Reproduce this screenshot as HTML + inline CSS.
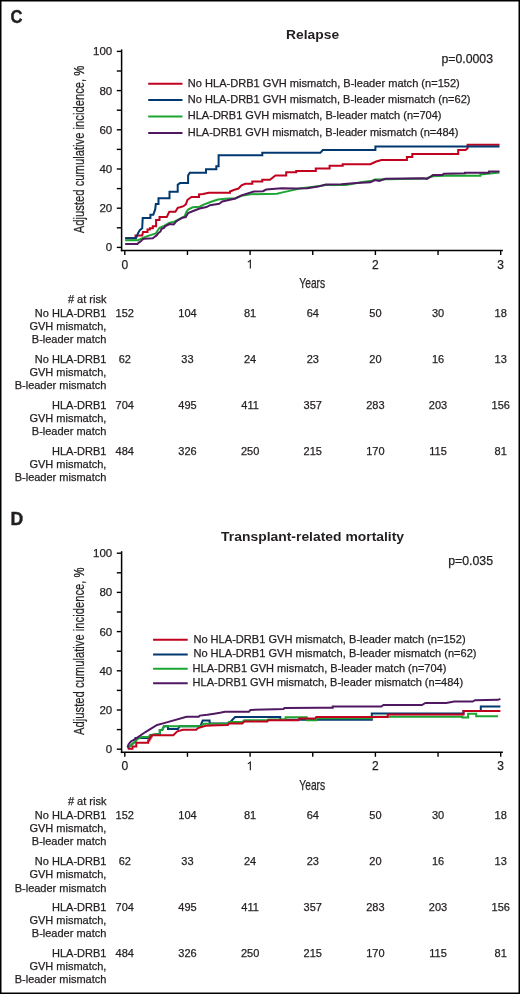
<!DOCTYPE html>
<html><head><meta charset="utf-8"><style>
html,body{margin:0;padding:0;background:#fff;}
#wrap{position:relative;width:520px;height:994px;overflow:hidden;background:#fff;}
svg{position:absolute;left:0;top:0;will-change:transform;}
svg text{font-family:"Liberation Sans", sans-serif;fill:#231f20;stroke:#231f20;stroke-width:0.25px;}
</style></head><body>
<div id="wrap">
<svg width="520" height="994" viewBox="0 0 520 994">
<rect x="0.75" y="0.75" width="518.5" height="992.5" fill="none" stroke="#000" stroke-width="1.5"/>
<text x="10.4" y="22.9" font-size="17.6" font-weight="bold" style="stroke-width:0.4px" textLength="12.0" lengthAdjust="spacingAndGlyphs">C</text>
<text x="312.6" y="39" font-size="13" text-anchor="middle" font-weight="bold" style="stroke:none" textLength="53" lengthAdjust="spacingAndGlyphs">Relapse</text>
<text x="493.0" y="62.5" font-size="12" text-anchor="end" textLength="51.6" lengthAdjust="spacingAndGlyphs">p=0.0003</text>
<line x1="121.6" y1="49.400000000000006" x2="121.6" y2="251.3" stroke="#000" stroke-width="1.5"/>
<line x1="120.85" y1="250.55" x2="502.9" y2="250.55" stroke="#000" stroke-width="1.5"/>
<line x1="116.8" y1="247.4" x2="121.6" y2="247.4" stroke="#000" stroke-width="1.4"/>
<line x1="116.8" y1="227.8" x2="121.6" y2="227.8" stroke="#000" stroke-width="1.4"/>
<line x1="116.8" y1="208.2" x2="121.6" y2="208.2" stroke="#000" stroke-width="1.4"/>
<line x1="116.8" y1="188.60000000000002" x2="121.6" y2="188.60000000000002" stroke="#000" stroke-width="1.4"/>
<line x1="116.8" y1="169.0" x2="121.6" y2="169.0" stroke="#000" stroke-width="1.4"/>
<line x1="116.8" y1="149.4" x2="121.6" y2="149.4" stroke="#000" stroke-width="1.4"/>
<line x1="116.8" y1="129.8" x2="121.6" y2="129.8" stroke="#000" stroke-width="1.4"/>
<line x1="116.8" y1="110.20000000000002" x2="121.6" y2="110.20000000000002" stroke="#000" stroke-width="1.4"/>
<line x1="116.8" y1="90.6" x2="121.6" y2="90.6" stroke="#000" stroke-width="1.4"/>
<line x1="116.8" y1="71.0" x2="121.6" y2="71.0" stroke="#000" stroke-width="1.4"/>
<line x1="116.8" y1="51.400000000000006" x2="121.6" y2="51.400000000000006" stroke="#000" stroke-width="1.4"/>
<text x="112.2" y="251.4" font-size="11.5" text-anchor="end">0</text>
<text x="112.2" y="212.2" font-size="11.5" text-anchor="end">20</text>
<text x="112.2" y="173.0" font-size="11.5" text-anchor="end">40</text>
<text x="112.2" y="133.8" font-size="11.5" text-anchor="end">60</text>
<text x="112.2" y="94.6" font-size="11.5" text-anchor="end">80</text>
<text x="112.2" y="55.400000000000006" font-size="11.5" text-anchor="end">100</text>
<line x1="124.8" y1="250.55" x2="124.8" y2="255.0" stroke="#000" stroke-width="1.4"/>
<line x1="187.45" y1="250.55" x2="187.45" y2="255.0" stroke="#000" stroke-width="1.4"/>
<line x1="250.1" y1="250.55" x2="250.1" y2="255.0" stroke="#000" stroke-width="1.4"/>
<line x1="312.75" y1="250.55" x2="312.75" y2="255.0" stroke="#000" stroke-width="1.4"/>
<line x1="375.4" y1="250.55" x2="375.4" y2="255.0" stroke="#000" stroke-width="1.4"/>
<line x1="438.05" y1="250.55" x2="438.05" y2="255.0" stroke="#000" stroke-width="1.4"/>
<line x1="500.7" y1="250.55" x2="500.7" y2="255.0" stroke="#000" stroke-width="1.4"/>
<text x="124.8" y="268.5" font-size="12" text-anchor="middle">0</text>
<path d="M250.35,268.50 V260.30 L247.85,262.10" fill="none" stroke="#231f20" stroke-width="1.15" stroke-linejoin="miter"/>
<text x="375.4" y="268.5" font-size="12" text-anchor="middle">2</text>
<text x="500.7" y="268.5" font-size="12" text-anchor="middle">3</text>
<text x="312.2" y="287.80" font-size="15" text-anchor="middle" textLength="25.8" lengthAdjust="spacingAndGlyphs">Years</text>
<text transform="translate(83.8,149.4) rotate(-90)" x="0" y="0" font-size="14" text-anchor="middle" textLength="167.5" lengthAdjust="spacingAndGlyphs">Adjusted cumulative incidence, %</text>
<line x1="148.2" y1="83.7" x2="182.5" y2="83.7" stroke="#c0021e" stroke-width="2.0"/>
<text x="187.8" y="86.5" font-size="11" textLength="272.0" lengthAdjust="spacingAndGlyphs">No HLA-DRB1 GVH mismatch, B-leader match (n=152)</text>
<line x1="148.2" y1="100.1" x2="182.5" y2="100.1" stroke="#01386f" stroke-width="2.0"/>
<text x="187.8" y="102.89999999999999" font-size="11" textLength="282.7" lengthAdjust="spacingAndGlyphs">No HLA-DRB1 GVH mismatch, B-leader mismatch (n=62)</text>
<line x1="148.2" y1="116.5" x2="182.5" y2="116.5" stroke="#1ca532" stroke-width="2.0"/>
<text x="187.8" y="119.3" font-size="11" textLength="253.7" lengthAdjust="spacingAndGlyphs">HLA-DRB1 GVH mismatch, B-leader match (n=704)</text>
<line x1="148.2" y1="133.0" x2="182.5" y2="133.0" stroke="#511862" stroke-width="2.0"/>
<text x="187.8" y="135.8" font-size="11" textLength="270.5" lengthAdjust="spacingAndGlyphs">HLA-DRB1 GVH mismatch, B-leader mismatch (n=484)</text>
<polyline points="125.2,238.3 135.5,238.3 135.5,235.4 142.2,235.4 143.0,232.0 147.5,232.0 147.5,229.6 149.9,229.6 149.9,228.2 152.8,228.2 152.8,226.3 156.1,226.3 156.1,220.0 159.5,220.0 159.5,217.1 166.7,217.1 169.3,211.7 175.4,211.7 177.7,207.9 180.0,207.3 183.5,206.2 185.8,204.4 187.5,199.8 191.5,196.9 199.0,196.9 199.0,194.5 203.0,194.0 208.8,192.8 230.0,192.8 230.0,191.5 233.8,190.0 238.5,188.5 241.5,185.4 245.4,183.8 252.3,183.8 252.3,181.5 262.3,181.5 262.3,179.7 270.0,179.7 275.4,175.4 286.2,175.4 286.2,172.3 296.2,172.3 296.2,171.0 315.8,171.0 315.8,168.5 329.6,168.5 329.6,165.7 342.7,165.7 342.7,164.2 370.4,164.2 373.0,163.0 376.2,161.5 381.5,160.0 406.9,160.0 406.9,156.9 412.3,156.9 412.3,154.0 458.2,154.0 458.2,149.9 465.6,149.9 467.6,148.2 467.6,144.8 499.5,144.8" fill="none" stroke="#c0021e" stroke-width="2.0" stroke-linejoin="miter" stroke-linecap="butt"/>
<polyline points="125.2,238.3 136.0,238.3 137.9,233.5 139.8,230.1 142.2,228.2 142.7,218.1 150.4,218.1 150.4,214.7 153.3,214.7 155.2,209.4 155.8,204.1 158.5,204.1 158.5,198.3 169.5,198.3 169.5,191.7 177.7,191.7 177.7,184.8 180.0,183.1 188.1,183.1 188.1,175.6 189.8,172.7 206.0,172.7 206.0,169.2 216.3,169.2 216.3,166.3 218.6,166.3 218.6,155.2 262.3,155.2 262.3,152.8 320.4,152.8 322.7,150.0 375.4,150.0 375.4,146.4 499.5,146.4" fill="none" stroke="#01386f" stroke-width="2.0" stroke-linejoin="miter" stroke-linecap="butt"/>
<polyline points="125.2,240.2 137.9,240.2 140.3,239.2 144.1,237.3 148.0,235.9 152.8,234.4 155.7,233.5 159.5,227.7 163.3,226.3 169.1,222.9 174.2,221.7 184.6,216.5 186.3,211.9 188.1,209.6 192.7,207.3 199.6,206.7 204.2,204.4 211.2,201.8 218.0,199.5 225.0,198.8 235.4,198.2 241.5,195.7 250.8,194.2 277.0,193.8 281.5,192.6 298.5,188.9 299.6,188.5 318.0,186.2 325.8,185.1 345.8,185.1 362.7,182.0 371.9,180.8 375.0,179.6 425.4,178.5 433.0,176.2 450.0,175.6 480.4,175.8 480.4,174.4 499.5,172.4" fill="none" stroke="#1ca532" stroke-width="2.0" stroke-linejoin="miter" stroke-linecap="butt"/>
<polyline points="125.2,244.0 137.4,244.0 138.8,242.6 140.8,241.2 142.2,239.7 144.1,238.8 152.8,238.3 154.7,236.8 156.6,235.4 158.5,233.0 160.5,231.5 161.4,229.1 164.3,227.7 165.0,226.3 169.6,224.0 173.7,224.4 176.5,221.2 182.3,217.7 185.8,217.1 188.1,213.1 193.8,210.8 199.6,208.5 206.5,207.1 210.0,205.2 219.2,203.8 222.3,201.5 235.4,198.5 241.5,195.4 253.8,191.5 263.0,191.2 266.2,189.5 281.5,188.3 295.0,188.5 307.3,188.2 318.0,186.6 325.8,184.6 341.2,184.2 356.5,183.1 370.4,182.3 375.0,180.0 379.2,181.0 385.4,178.8 423.8,178.2 426.9,179.0 433.0,175.1 442.3,175.1 443.8,173.7 464.9,173.3 464.9,172.8 489.1,172.8 489.1,171.5 499.5,171.5" fill="none" stroke="#511862" stroke-width="2.0" stroke-linejoin="miter" stroke-linecap="butt"/>
<text x="106.4" y="303.1" font-size="11" text-anchor="end"># at risk</text>
<text x="106.4" y="316.5" font-size="11" text-anchor="end">No HLA-DRB1</text>
<text x="106.4" y="329.7" font-size="11" text-anchor="end">GVH mismatch,</text>
<text x="106.4" y="342.9" font-size="11" text-anchor="end">B-leader match</text>
<text x="124.8" y="316.5" font-size="11" text-anchor="middle">152</text>
<text x="187.45" y="316.5" font-size="11" text-anchor="middle">104</text>
<text x="250.1" y="316.5" font-size="11" text-anchor="middle">81</text>
<text x="312.75" y="316.5" font-size="11" text-anchor="middle">64</text>
<text x="375.4" y="316.5" font-size="11" text-anchor="middle">50</text>
<text x="438.05" y="316.5" font-size="11" text-anchor="middle">30</text>
<text x="500.7" y="316.5" font-size="11" text-anchor="middle">18</text>
<text x="106.4" y="362.9" font-size="11" text-anchor="end">No HLA-DRB1</text>
<text x="106.4" y="376.09999999999997" font-size="11" text-anchor="end">GVH mismatch,</text>
<text x="106.4" y="389.29999999999995" font-size="11" text-anchor="end">B-leader mismatch</text>
<text x="124.8" y="362.9" font-size="11" text-anchor="middle">62</text>
<text x="187.45" y="362.9" font-size="11" text-anchor="middle">33</text>
<text x="250.1" y="362.9" font-size="11" text-anchor="middle">24</text>
<text x="312.75" y="362.9" font-size="11" text-anchor="middle">23</text>
<text x="375.4" y="362.9" font-size="11" text-anchor="middle">20</text>
<text x="438.05" y="362.9" font-size="11" text-anchor="middle">16</text>
<text x="500.7" y="362.9" font-size="11" text-anchor="middle">13</text>
<text x="106.4" y="408.6" font-size="11" text-anchor="end">HLA-DRB1</text>
<text x="106.4" y="421.8" font-size="11" text-anchor="end">GVH mismatch,</text>
<text x="106.4" y="435.0" font-size="11" text-anchor="end">B-leader match</text>
<text x="124.8" y="408.6" font-size="11" text-anchor="middle">704</text>
<text x="187.45" y="408.6" font-size="11" text-anchor="middle">495</text>
<text x="250.1" y="408.6" font-size="11" text-anchor="middle">411</text>
<text x="312.75" y="408.6" font-size="11" text-anchor="middle">357</text>
<text x="375.4" y="408.6" font-size="11" text-anchor="middle">283</text>
<text x="438.05" y="408.6" font-size="11" text-anchor="middle">203</text>
<text x="500.7" y="408.6" font-size="11" text-anchor="middle">156</text>
<text x="106.4" y="454.5" font-size="11" text-anchor="end">HLA-DRB1</text>
<text x="106.4" y="467.7" font-size="11" text-anchor="end">GVH mismatch,</text>
<text x="106.4" y="480.9" font-size="11" text-anchor="end">B-leader mismatch</text>
<text x="124.8" y="454.5" font-size="11" text-anchor="middle">484</text>
<text x="187.45" y="454.5" font-size="11" text-anchor="middle">326</text>
<text x="250.1" y="454.5" font-size="11" text-anchor="middle">250</text>
<text x="312.75" y="454.5" font-size="11" text-anchor="middle">215</text>
<text x="375.4" y="454.5" font-size="11" text-anchor="middle">170</text>
<text x="438.05" y="454.5" font-size="11" text-anchor="middle">115</text>
<text x="500.7" y="454.5" font-size="11" text-anchor="middle">81</text>
<text x="10.4" y="525.2" font-size="17.6" font-weight="bold" style="stroke-width:0.4px">D</text>
<text x="312.6" y="541.3" font-size="13" text-anchor="middle" font-weight="bold" style="stroke:none" textLength="183" lengthAdjust="spacingAndGlyphs">Transplant-related mortality</text>
<text x="493.0" y="564.8" font-size="12" text-anchor="end" textLength="44.8" lengthAdjust="spacingAndGlyphs">p=0.035</text>
<line x1="121.6" y1="551.2" x2="121.6" y2="753.1" stroke="#000" stroke-width="1.5"/>
<line x1="120.85" y1="752.35" x2="502.9" y2="752.35" stroke="#000" stroke-width="1.5"/>
<line x1="116.8" y1="749.2" x2="121.6" y2="749.2" stroke="#000" stroke-width="1.4"/>
<line x1="116.8" y1="729.6" x2="121.6" y2="729.6" stroke="#000" stroke-width="1.4"/>
<line x1="116.8" y1="710.0" x2="121.6" y2="710.0" stroke="#000" stroke-width="1.4"/>
<line x1="116.8" y1="690.4000000000001" x2="121.6" y2="690.4000000000001" stroke="#000" stroke-width="1.4"/>
<line x1="116.8" y1="670.8000000000001" x2="121.6" y2="670.8000000000001" stroke="#000" stroke-width="1.4"/>
<line x1="116.8" y1="651.2" x2="121.6" y2="651.2" stroke="#000" stroke-width="1.4"/>
<line x1="116.8" y1="631.6" x2="121.6" y2="631.6" stroke="#000" stroke-width="1.4"/>
<line x1="116.8" y1="612.0" x2="121.6" y2="612.0" stroke="#000" stroke-width="1.4"/>
<line x1="116.8" y1="592.4000000000001" x2="121.6" y2="592.4000000000001" stroke="#000" stroke-width="1.4"/>
<line x1="116.8" y1="572.8000000000001" x2="121.6" y2="572.8000000000001" stroke="#000" stroke-width="1.4"/>
<line x1="116.8" y1="553.2" x2="121.6" y2="553.2" stroke="#000" stroke-width="1.4"/>
<text x="112.2" y="753.2" font-size="11.5" text-anchor="end">0</text>
<text x="112.2" y="714.0" font-size="11.5" text-anchor="end">20</text>
<text x="112.2" y="674.8000000000001" font-size="11.5" text-anchor="end">40</text>
<text x="112.2" y="635.6" font-size="11.5" text-anchor="end">60</text>
<text x="112.2" y="596.4000000000001" font-size="11.5" text-anchor="end">80</text>
<text x="112.2" y="557.2" font-size="11.5" text-anchor="end">100</text>
<line x1="124.8" y1="752.35" x2="124.8" y2="756.8000000000001" stroke="#000" stroke-width="1.4"/>
<line x1="187.45" y1="752.35" x2="187.45" y2="756.8000000000001" stroke="#000" stroke-width="1.4"/>
<line x1="250.1" y1="752.35" x2="250.1" y2="756.8000000000001" stroke="#000" stroke-width="1.4"/>
<line x1="312.75" y1="752.35" x2="312.75" y2="756.8000000000001" stroke="#000" stroke-width="1.4"/>
<line x1="375.4" y1="752.35" x2="375.4" y2="756.8000000000001" stroke="#000" stroke-width="1.4"/>
<line x1="438.05" y1="752.35" x2="438.05" y2="756.8000000000001" stroke="#000" stroke-width="1.4"/>
<line x1="500.7" y1="752.35" x2="500.7" y2="756.8000000000001" stroke="#000" stroke-width="1.4"/>
<text x="124.8" y="770.3000000000001" font-size="12" text-anchor="middle">0</text>
<path d="M250.35,770.30 V762.10 L247.85,763.90" fill="none" stroke="#231f20" stroke-width="1.15" stroke-linejoin="miter"/>
<text x="375.4" y="770.3000000000001" font-size="12" text-anchor="middle">2</text>
<text x="500.7" y="770.3000000000001" font-size="12" text-anchor="middle">3</text>
<text x="312.2" y="790.10" font-size="15" text-anchor="middle" textLength="25.8" lengthAdjust="spacingAndGlyphs">Years</text>
<text transform="translate(83.8,651.2) rotate(-90)" x="0" y="0" font-size="14" text-anchor="middle" textLength="167.5" lengthAdjust="spacingAndGlyphs">Adjusted cumulative incidence, %</text>
<line x1="153.1" y1="639.8" x2="187.7" y2="639.8" stroke="#c0021e" stroke-width="2.0"/>
<text x="193.4" y="642.5999999999999" font-size="11" textLength="272.2" lengthAdjust="spacingAndGlyphs">No HLA-DRB1 GVH mismatch, B-leader match (n=152)</text>
<line x1="153.1" y1="654.4" x2="187.7" y2="654.4" stroke="#01386f" stroke-width="2.0"/>
<text x="193.4" y="657.1999999999999" font-size="11" textLength="283.1" lengthAdjust="spacingAndGlyphs">No HLA-DRB1 GVH mismatch, B-leader mismatch (n=62)</text>
<line x1="153.1" y1="668.8" x2="187.7" y2="668.8" stroke="#1ca532" stroke-width="2.0"/>
<text x="192.6" y="671.5999999999999" font-size="11" textLength="253.8" lengthAdjust="spacingAndGlyphs">HLA-DRB1 GVH mismatch, B-leader match (n=704)</text>
<line x1="153.1" y1="683.3" x2="187.7" y2="683.3" stroke="#511862" stroke-width="2.0"/>
<text x="192.6" y="686.0999999999999" font-size="11" textLength="270.5" lengthAdjust="spacingAndGlyphs">HLA-DRB1 GVH mismatch, B-leader mismatch (n=484)</text>
<polyline points="127.8,748.5 128.6,747.3 135.5,741.2 135.5,737.9 148.6,737.9 150.2,735.2 159.8,733.8 159.8,730.0 162.3,729.8 164.0,726.2 168.0,726.2 168.0,729.0 178.0,729.0 179.5,726.2 200.4,726.2 202.7,720.6 209.6,720.6 209.6,723.5 228.5,723.3 229.3,722.9 235.1,717.1 280.3,717.1 280.3,719.8 371.8,719.8 371.8,713.6 463.5,713.6 463.5,711.1 480.8,711.1 480.8,706.5 500.4,706.5" fill="none" stroke="#01386f" stroke-width="2.0" stroke-linejoin="miter" stroke-linecap="butt"/>
<polyline points="128.6,747.3 135.5,741.2 137.0,739.5 139.4,738.1 141.7,736.9 148.6,736.9 150.2,735.2 159.8,733.8 159.8,730.0 162.3,729.8 164.0,726.2 200.4,726.2 203.8,723.7 227.9,723.5 228.8,722.1 242.3,722.1 244.2,720.2 267.3,720.2 268.3,719.5 285.6,719.5 285.6,717.3 306.7,717.3 306.7,720.3 316.3,720.3 316.3,718.2 371.8,718.2 371.8,716.8 462.3,716.8 462.3,717.6 468.1,717.6 468.1,713.8 476.2,713.8 476.2,716.2 498.1,716.2" fill="none" stroke="#1ca532" stroke-width="2.0" stroke-linejoin="miter" stroke-linecap="butt"/>
<polyline points="127.8,748.8 132.5,748.8 132.5,746.5 136.3,746.5 136.3,742.7 148.2,742.7 148.2,740.5 149.4,740.5 149.4,738.5 150.6,738.5 150.6,736.5 151.7,736.5 151.7,735.2 173.3,735.2 177.3,731.3 183.1,729.8 196.2,729.8 198.0,728.1 205.6,725.8 217.7,725.2 227.9,725.1 228.8,723.4 242.3,723.4 244.2,721.5 267.3,721.5 268.3,720.3 298.3,720.3 299.3,718.6 315.2,718.6 316.3,716.9 387.7,716.9 387.7,714.5 463.5,714.5 463.5,711.1 500.4,711.1" fill="none" stroke="#c0021e" stroke-width="2.0" stroke-linejoin="miter" stroke-linecap="butt"/>
<polyline points="127.5,747.3 128.6,744.2 130.9,741.5 135.5,738.8 143.2,733.5 149.4,729.6 157.1,725.0 164.0,723.1 186.5,716.8 198.7,716.8 199.8,715.6 207.3,714.8 214.2,713.7 220.0,712.8 225.0,711.7 249.0,711.7 250.5,709.9 275.0,709.2 283.5,708.9 284.5,708.0 320.0,707.7 332.7,707.7 332.7,706.6 381.3,706.6 383.5,705.0 421.9,705.0 425.4,703.0 446.2,703.0 454.2,701.6 472.7,701.6 475.0,700.2 498.1,699.8 500.4,698.8" fill="none" stroke="#511862" stroke-width="2.0" stroke-linejoin="miter" stroke-linecap="butt"/>
<text x="106.4" y="805.4000000000001" font-size="11" text-anchor="end"># at risk</text>
<text x="106.4" y="818.8" font-size="11" text-anchor="end">No HLA-DRB1</text>
<text x="106.4" y="832.0" font-size="11" text-anchor="end">GVH mismatch,</text>
<text x="106.4" y="845.1999999999999" font-size="11" text-anchor="end">B-leader match</text>
<text x="124.8" y="818.8" font-size="11" text-anchor="middle">152</text>
<text x="187.45" y="818.8" font-size="11" text-anchor="middle">104</text>
<text x="250.1" y="818.8" font-size="11" text-anchor="middle">81</text>
<text x="312.75" y="818.8" font-size="11" text-anchor="middle">64</text>
<text x="375.4" y="818.8" font-size="11" text-anchor="middle">50</text>
<text x="438.05" y="818.8" font-size="11" text-anchor="middle">30</text>
<text x="500.7" y="818.8" font-size="11" text-anchor="middle">18</text>
<text x="106.4" y="865.2" font-size="11" text-anchor="end">No HLA-DRB1</text>
<text x="106.4" y="878.4000000000001" font-size="11" text-anchor="end">GVH mismatch,</text>
<text x="106.4" y="891.6" font-size="11" text-anchor="end">B-leader mismatch</text>
<text x="124.8" y="865.2" font-size="11" text-anchor="middle">62</text>
<text x="187.45" y="865.2" font-size="11" text-anchor="middle">33</text>
<text x="250.1" y="865.2" font-size="11" text-anchor="middle">24</text>
<text x="312.75" y="865.2" font-size="11" text-anchor="middle">23</text>
<text x="375.4" y="865.2" font-size="11" text-anchor="middle">20</text>
<text x="438.05" y="865.2" font-size="11" text-anchor="middle">16</text>
<text x="500.7" y="865.2" font-size="11" text-anchor="middle">13</text>
<text x="106.4" y="910.9000000000001" font-size="11" text-anchor="end">HLA-DRB1</text>
<text x="106.4" y="924.1000000000001" font-size="11" text-anchor="end">GVH mismatch,</text>
<text x="106.4" y="937.3000000000001" font-size="11" text-anchor="end">B-leader match</text>
<text x="124.8" y="910.9000000000001" font-size="11" text-anchor="middle">704</text>
<text x="187.45" y="910.9000000000001" font-size="11" text-anchor="middle">495</text>
<text x="250.1" y="910.9000000000001" font-size="11" text-anchor="middle">411</text>
<text x="312.75" y="910.9000000000001" font-size="11" text-anchor="middle">357</text>
<text x="375.4" y="910.9000000000001" font-size="11" text-anchor="middle">283</text>
<text x="438.05" y="910.9000000000001" font-size="11" text-anchor="middle">203</text>
<text x="500.7" y="910.9000000000001" font-size="11" text-anchor="middle">156</text>
<text x="106.4" y="956.8" font-size="11" text-anchor="end">HLA-DRB1</text>
<text x="106.4" y="970.0" font-size="11" text-anchor="end">GVH mismatch,</text>
<text x="106.4" y="983.1999999999999" font-size="11" text-anchor="end">B-leader mismatch</text>
<text x="124.8" y="956.8" font-size="11" text-anchor="middle">484</text>
<text x="187.45" y="956.8" font-size="11" text-anchor="middle">326</text>
<text x="250.1" y="956.8" font-size="11" text-anchor="middle">250</text>
<text x="312.75" y="956.8" font-size="11" text-anchor="middle">215</text>
<text x="375.4" y="956.8" font-size="11" text-anchor="middle">170</text>
<text x="438.05" y="956.8" font-size="11" text-anchor="middle">115</text>
<text x="500.7" y="956.8" font-size="11" text-anchor="middle">81</text>
</svg>
</div>
</body></html>
